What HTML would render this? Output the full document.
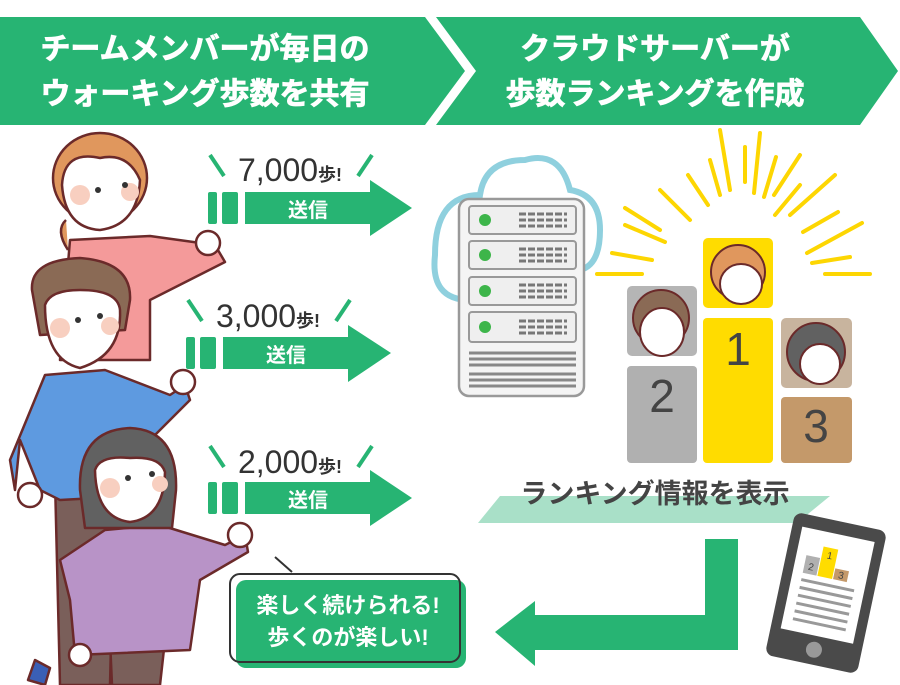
<!DOCTYPE html>
<html><head><meta charset="utf-8"><style>
html,body{margin:0;padding:0;background:#fff;width:900px;height:685px;overflow:hidden}
svg text{font-family:"Liberation Sans","Noto Sans CJK JP",sans-serif}
</style></head><body>
<svg width="900" height="685" viewBox="0 0 900 685" xmlns="http://www.w3.org/2000/svg">
<polygon points="0,17 425,17 465,71 425,125 0,125" fill="#27b473"/>
<polygon points="436,17 860,17 898,71 860,125 436,125 476,71" fill="#27b473"/>
<g fill="#fff" font-weight="bold" font-size="30" text-anchor="middle" font-family="Noto Sans CJK JP" stroke="#fff" stroke-width="0.8">
<text x="205" y="59">チームメンバーが毎日の</text>
<text x="205" y="104">ウォーキング歩数を共有</text>
<text x="655" y="59">クラウドサーバーが</text>
<text x="655" y="104">歩数ランキングを作成</text>
</g>

<g>
<line x1="210" y1="155" x2="224" y2="176" stroke="#27b473" stroke-width="4"/>
<line x1="372" y1="155" x2="358" y2="176" stroke="#27b473" stroke-width="4"/>
<text x="290" y="181" font-size="32" fill="#333" text-anchor="middle">7,000<tspan font-size="18" font-weight="bold">歩!</tspan></text>
<rect x="208" y="192" width="9" height="32" rx="2" fill="#27b473"/>
<rect x="222" y="192" width="16" height="32" rx="2" fill="#27b473"/>
<polygon points="245,192 370,192 370,180 412,208 370,236 370,224 245,224" fill="#27b473"/>
<text x="308" y="217" font-size="20" font-weight="bold" fill="#fff" text-anchor="middle">送信</text>
</g>
<g>
<line x1="188" y1="300" x2="202" y2="321" stroke="#27b473" stroke-width="4"/>
<line x1="350" y1="300" x2="336" y2="321" stroke="#27b473" stroke-width="4"/>
<text x="268" y="327" font-size="32" fill="#333" text-anchor="middle">3,000<tspan font-size="18" font-weight="bold">歩!</tspan></text>
<rect x="186" y="337" width="9" height="32" rx="2" fill="#27b473"/>
<rect x="200" y="337" width="16" height="32" rx="2" fill="#27b473"/>
<polygon points="223,337 348,337 348,325 391,353 348,382 348,369 223,369" fill="#27b473"/>
<text x="286" y="362" font-size="20" font-weight="bold" fill="#fff" text-anchor="middle">送信</text>
</g>
<g>
<line x1="210" y1="446" x2="224" y2="467" stroke="#27b473" stroke-width="4"/>
<line x1="372" y1="446" x2="358" y2="467" stroke="#27b473" stroke-width="4"/>
<text x="290" y="473" font-size="32" fill="#333" text-anchor="middle">2,000<tspan font-size="18" font-weight="bold">歩!</tspan></text>
<rect x="208" y="482" width="9" height="32" rx="2" fill="#27b473"/>
<rect x="222" y="482" width="16" height="32" rx="2" fill="#27b473"/>
<polygon points="245,482 370,482 370,470 412,498 370,526 370,514 245,514" fill="#27b473"/>
<text x="308" y="507" font-size="20" font-weight="bold" fill="#fff" text-anchor="middle">送信</text>
</g>

<g stroke="#6b2a2a" stroke-width="2.5" stroke-linejoin="round">
<path d="M70,240 L150,236 L215,245 L225,262 L150,300 L150,360 L60,360 Z" fill="#f49a9a"/>
<circle cx="208" cy="243" r="12" fill="#fff"/>
<path d="M68,250 Q55,230 66,220" fill="#e0975d"/>
<ellipse cx="100" cy="178" rx="47" ry="45" fill="#e0975d"/>
<path d="M62,185 Q64,150 100,158 Q128,152 140,180 Q138,225 100,230 Q65,228 62,185Z" fill="#fff"/>
<path d="M55,480 L115,480 L110,685 L60,685 Z" fill="#7a5f5a"/>
<path d="M45,375 L105,370 L170,395 L185,385 L190,400 L150,440 L150,495 L60,500 L40,490 L20,440 L15,490 L10,460 Z" fill="#5e9ae0"/>
<circle cx="183" cy="382" r="12" fill="#fff"/>
<circle cx="30" cy="495" r="12" fill="#fff"/>
<path d="M32,290 Q30,260 80,258 Q132,262 130,300 L125,330 L40,335 Z" fill="#8a6a55"/>
<path d="M45,305 Q50,290 80,290 Q118,290 120,310 Q122,355 80,368 Q45,360 45,305Z" fill="#fff"/>
<path d="M110,640 L165,640 L160,685 L112,685 Z" fill="#7a5f5a"/>
<path d="M105,530 L160,525 L225,545 L245,535 L248,552 L200,580 L190,650 L75,655 L70,600 L60,560 Z" fill="#b893c7"/>
<circle cx="240" cy="535" r="12" fill="#fff"/>
<circle cx="80" cy="655" r="11" fill="#fff"/>
<path d="M35,660 L50,668 L45,685 L28,680Z" fill="#3a5fb5"/>
<path d="M80,490 Q78,430 130,428 Q178,430 176,490 L172,528 L85,528 Z" fill="#616161"/>
<path d="M95,470 Q100,455 130,458 Q160,456 165,472 Q164,518 130,522 Q96,518 95,470Z" fill="#fff"/>
</g>
<g fill="#f8cfc0"><circle cx="80" cy="195" r="10"/><circle cx="130" cy="192" r="9"/><circle cx="60" cy="328" r="10"/><circle cx="110" cy="326" r="9"/><circle cx="110" cy="488" r="10"/><circle cx="160" cy="484" r="8"/></g>
<g fill="#333"><circle cx="98" cy="190" r="3"/><circle cx="125" cy="185" r="3"/><circle cx="78" cy="320" r="3"/><circle cx="100" cy="316" r="3"/><circle cx="128" cy="478" r="3"/><circle cx="152" cy="474" r="3"/></g>

<rect x="236" y="580" width="230" height="88" rx="10" fill="#27b473"/>
<rect x="230" y="574" width="230" height="88" rx="10" fill="none" stroke="#333" stroke-width="2"/>
<g fill="#fff" font-weight="bold" font-size="22" text-anchor="middle" font-family="Noto Sans CJK JP">
<text x="348" y="613">楽しく続けられる!</text>
<text x="348" y="645">歩くのが楽しい!</text>
</g>
<line x1="275" y1="557" x2="292" y2="572" stroke="#333" stroke-width="2"/>

<path d="M470,300 Q430,300 435,255 Q435,195 480,195 Q485,160 525,160 Q560,150 570,190 Q600,195 600,230 Q600,265 580,270 Z" fill="#fff" stroke="#8fd0de" stroke-width="6"/>
<rect x="459" y="199" width="125" height="197" rx="10" fill="#f4f4f4" stroke="#999" stroke-width="2.5"/>
<g fill="#efefef" stroke="#999" stroke-width="2">
<rect x="469" y="206" width="107" height="28" rx="3"/><rect x="469" y="241" width="107" height="28" rx="3"/><rect x="469" y="277" width="107" height="28" rx="3"/><rect x="469" y="312" width="107" height="30" rx="3"/>
</g>
<g fill="#3db54a"><circle cx="485" cy="220" r="6"/><circle cx="485" cy="255" r="6"/><circle cx="485" cy="291" r="6"/><circle cx="485" cy="327" r="6"/></g>
<g stroke="#777" stroke-width="3" stroke-dasharray="7,2">
<path d="M519,214h48M519,220h48M519,226h48M519,249h48M519,255h48M519,261h48M519,285h48M519,291h48M519,297h48M519,321h48M519,327h48M519,333h48"/>
</g>
<g stroke="#888" stroke-width="3"><path d="M469,353h107M469,359h107M469,365h107M469,374h107M469,380h107M469,386h107"/></g>

<g stroke="#fdd602" stroke-width="4" stroke-linecap="round">
<path d="M597,274h45M612,253l40,7M625,225l40,17M625,208l35,22M660,190l30,30M688,175l20,30M710,160l10,35M720,130l10,60M745,147v35M760,133l-6,60M776,157l-12,40M800,155l-26,40M800,185l-25,30M835,175l-45,40M838,212l-35,20M862,223l-55,30M850,257l-38,6M870,274h-45"/>
</g>
<rect x="627" y="286" width="70" height="70" rx="5" fill="#b5b5b5"/>
<rect x="703" y="238" width="70" height="70" rx="5" fill="#ffdc00"/>
<rect x="781" y="318" width="71" height="70" rx="5" fill="#c8b49e"/>
<rect x="627" y="366" width="70" height="97" rx="4" fill="#b0b0b0"/>
<rect x="703" y="318" width="70" height="145" rx="4" fill="#ffdc00"/>
<rect x="781" y="397" width="71" height="66" rx="4" fill="#c4996a"/>
<g fill="#444" font-size="46" text-anchor="middle"><text x="662" y="412">2</text><text x="738" y="365">1</text><text x="816" y="442">3</text></g>
<g stroke="#6b2a2a" stroke-width="2">
<circle cx="738" cy="272" r="27" fill="#e0975d"/><ellipse cx="741" cy="284" rx="21" ry="20" fill="#fff"/>
<circle cx="661" cy="318" r="28" fill="#8a6a55"/><ellipse cx="662" cy="332" rx="22" ry="24" fill="#fff"/>
<circle cx="816" cy="352" r="29" fill="#616161"/><ellipse cx="820" cy="364" rx="20" ry="20" fill="#fff"/>
</g>

<polygon points="500,496 830,496 797,523 478,523" fill="#a9e0c8"/>
<text x="655" y="503" font-size="27" font-weight="bold" fill="#444" text-anchor="middle" font-family="Noto Sans CJK JP">ランキング情報を表示</text>

<path d="M705,539 h33 v111 H535 v16 L495,632 L535,601 v14 h170 Z" fill="#27b473"/>

<g transform="translate(826,593) rotate(12)">
<rect x="-47" y="-73" width="94" height="146" rx="8" fill="#4a4a4a"/>
<rect x="-37" y="-60" width="74" height="104" fill="#fff"/>
<circle cx="0" cy="58" r="8" fill="#999"/>
<rect x="-27" y="-33" width="14" height="18" fill="#b0b0b0"/><rect x="-12" y="-45" width="15" height="30" fill="#ffdc00"/><rect x="4" y="-26" width="14" height="11" fill="#c4996a"/>
<g font-size="10" fill="#444" text-anchor="middle"><text x="-20" y="-19">2</text><text x="-4" y="-34">1</text><text x="11" y="-17">3</text></g>
<g stroke="#999" stroke-width="3"><path d="M-27,-8h54M-27,0h54M-27,8h54M-27,16h54M-27,24h54M-27,32h54"/></g>
</g>
</svg>
</body></html>
